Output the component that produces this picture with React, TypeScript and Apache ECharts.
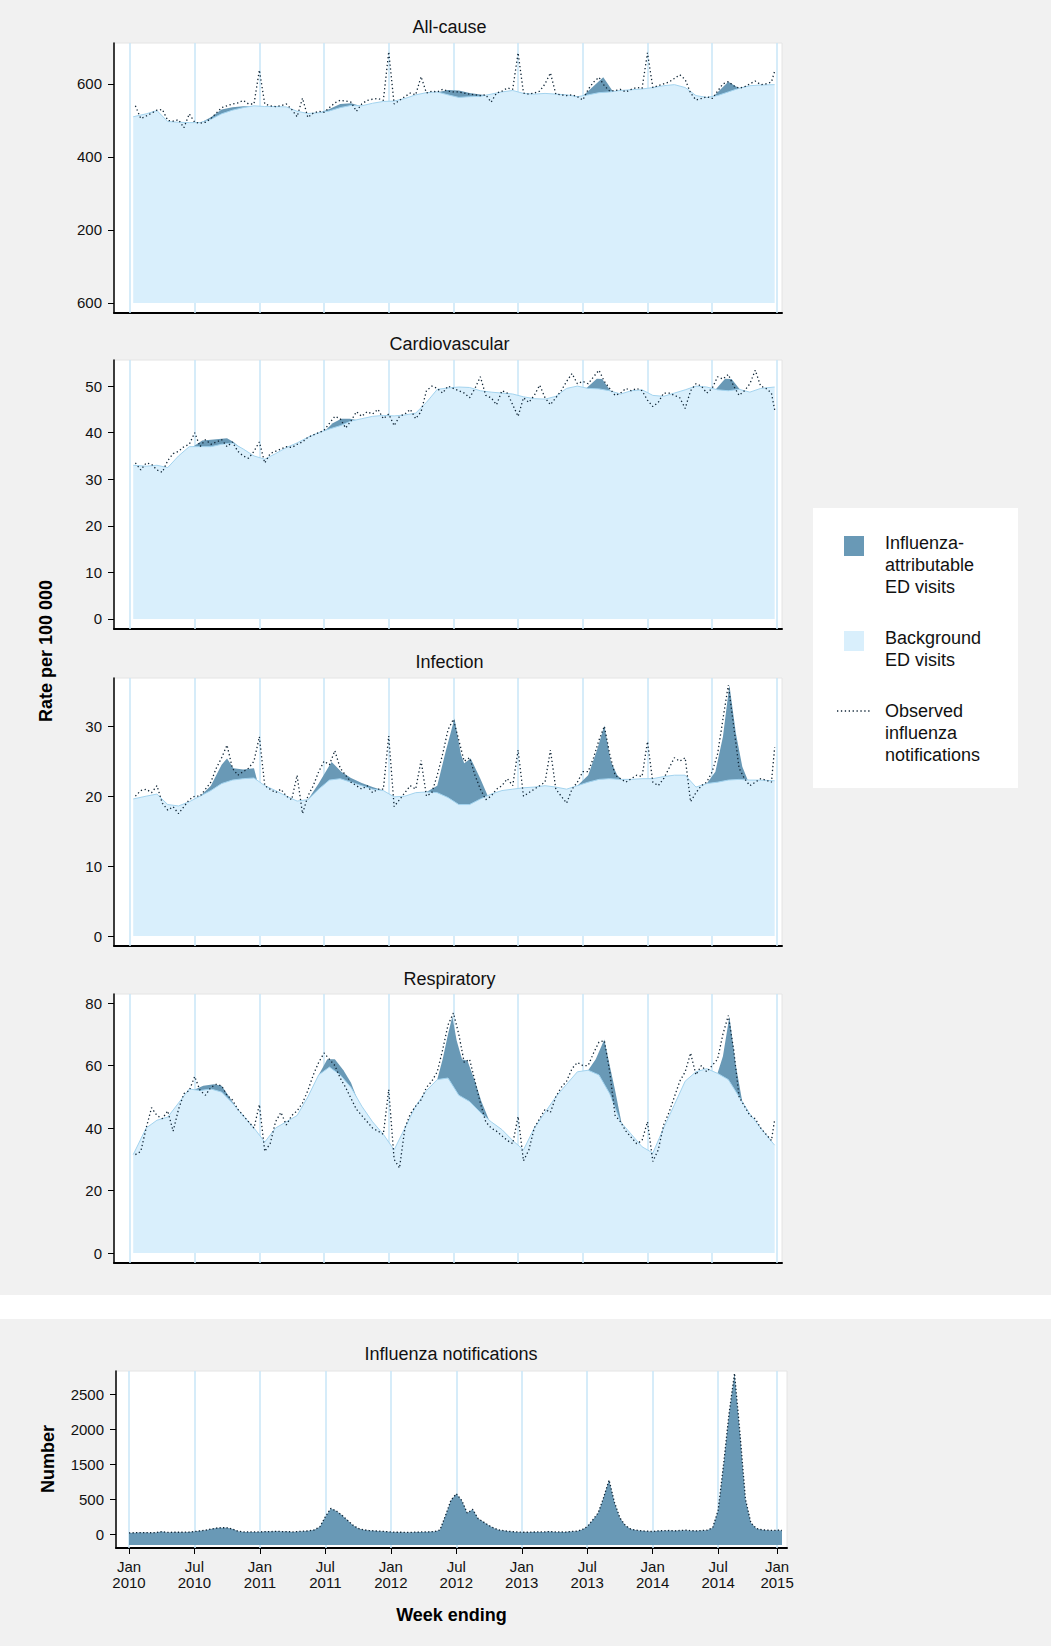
import React, { useEffect, useRef } from "react";
import * as echarts from "echarts";

// ---------- ticks / labels ----------
const gridMonths = [0, 6, 12, 18, 24, 30, 36, 42, 48, 54, 60];
const notifTickMonths = [0, 6, 12, 18, 24, 30, 36, 42, 48, 54, 59.4];
const xTickLabels = [
  "Jan\n2010", "Jul\n2010", "Jan\n2011", "Jul\n2011", "Jan\n2012", "Jul\n2012",
  "Jan\n2013", "Jul\n2013", "Jan\n2014", "Jul\n2014", "Jan\n2015",
];
const panelTitles = ["All-cause", "Cardiovascular", "Infection", "Respiratory"];
const notifTitle = "Influenza notifications";

const allCauseTicks = [0, 200, 400, 600];
const allCauseTickLabels = ["600", "200", "400", "600"];
const cardioTicks = [0, 10, 20, 30, 40, 50];
const infectionTicks = [0, 10, 20, 30];
const respTicks = [0, 20, 40, 60, 80];
const notifTicks = [0, 500, 1000, 1500, 2000];
const notifTickLabels = ["0", "500", "1500", "2000", "2500"];

// ---------- All-cause ----------
const allCauseBackground = [
  510, 518, 527, 497, 495, 494, 494, 503, 518, 528, 535, 540,
  538, 538, 537, 525, 519, 521, 526, 535, 541, 540, 547, 552,
  553, 560, 570, 576, 578, 570, 563, 565, 566, 572, 578, 582,
  574, 572, 574, 572, 570, 565, 570, 576, 578, 582, 584, 586,
  590, 595, 598, 590, 568, 563, 568, 578, 588, 595, 597, 598,
];
const allCauseWithFlu: number[][][] = [
  [[6.5, 493], [7.5, 509], [8.5, 530], [9.5, 536], [10.5, 539], [11.5, 539]],
  [[17.5, 520], [18.5, 531], [19.5, 545], [20.5, 547], [21.5, 539]],
  [[28.5, 577], [29.5, 583], [30.5, 582], [31.5, 575], [32.5, 571], [33.2, 569]],
  [[42.0, 567], [43.9, 618], [44.8, 579]],
  [[54.2, 568], [55.5, 606], [56.5, 588], [57.5, 595]],
];
const allCauseObserved = [
  540, 505, 512, 520, 528, 530, 500, 498, 502, 480, 518, 495,
  492, 495, 505, 520, 535, 540, 545, 548, 555, 545, 545, 638,
  545, 540, 538, 540, 545, 530, 510, 561, 508, 520, 525, 522,
  535, 548, 555, 553, 550, 525, 545, 555, 558, 560, 555, 688,
  545, 555, 565, 575, 570, 620, 575, 580, 578, 585, 580, 578,
  578, 575, 572, 570, 568, 570, 550, 575, 580, 589, 585, 685,
  575, 572, 575, 580, 600, 630, 572, 570, 568, 570, 565, 556,
  585, 605, 618, 595, 580, 582, 585, 578, 585, 590, 588, 685,
  590, 595, 600, 605, 615, 625, 612, 575, 556, 560, 565, 560,
  580, 600, 606, 595, 588, 592, 600, 608, 598, 600, 605, 635,
];

// ---------- Cardiovascular ----------
const cardioBackground = [
  33.0, 32.8, 33.0, 32.5, 35.0, 37.0, 37.0, 37.0, 37.5, 37.8, 36.5, 35.0,
  34.3, 35.5, 36.8, 37.8, 39.0, 40.0, 40.8, 41.5, 42.5, 43.0, 43.5, 43.7,
  43.6, 43.8, 44.2, 46.5, 49.3, 49.6, 49.8, 49.7, 49.0, 48.7, 48.5, 48.3,
  47.7, 47.3, 47.2, 47.8, 49.5, 50.0, 49.5, 49.4, 49.0, 48.3, 49.0, 49.2,
  48.0, 47.8, 48.5, 49.2, 50.0, 49.8, 49.2, 49.0, 49.3, 48.7, 49.5, 49.8,
];
const cardioWithFlu: number[][][] = [
  [[5.8, 36.9], [6.7, 38.3], [8.0, 38.6], [9.0, 38.8], [9.6, 38.0], [10.2, 36.8]],
  [[17.9, 40.0], [18.8, 42.0], [19.6, 43.0], [20.4, 43.0], [21.0, 42.7]],
  [[42.3, 49.5], [43.3, 51.6], [43.8, 51.5], [44.6, 48.9]],
  [[54.3, 49.2], [55.2, 51.6], [55.8, 51.5], [56.6, 49.2]],
];
const cardioObserved = [
  33.5, 32.0, 33.5, 33.2, 32.0, 31.5, 34.0, 35.5, 36.0, 37.0, 37.5, 40.0,
  37.0, 38.5, 37.5, 38.0, 38.5, 37.0, 38.0, 36.0, 35.0, 34.5, 36.0, 38.0,
  33.5, 35.5, 36.0, 36.5, 37.0, 36.8, 37.5, 38.0, 39.0, 39.5, 40.0, 40.5,
  42.0, 43.5, 43.0, 41.0, 42.5, 44.5, 43.5, 44.5, 44.0, 45.0, 43.0, 44.0,
  41.5, 43.5, 44.0, 45.0, 43.0, 44.5, 49.0, 50.0, 49.5, 48.5, 50.0, 49.5,
  49.0, 48.5, 47.5, 49.5, 52.0, 48.0, 47.5, 46.0, 49.0, 48.5, 46.0, 43.5,
  47.5, 46.5, 48.0, 50.2, 47.5, 46.0, 47.5, 49.0, 51.0, 52.7, 50.5, 51.0,
  50.5, 52.0, 53.4, 51.0, 49.5, 48.0, 48.5, 49.5, 49.0, 49.5, 49.0, 47.0,
  45.6, 46.5, 48.5, 48.5, 48.0, 47.5, 45.2, 49.0, 50.5, 50.0, 48.5, 49.5,
  52.0, 51.5, 52.5, 50.0, 48.0, 49.0, 50.5, 53.4, 50.0, 49.5, 48.5, 44.9,
];

// ---------- Infection ----------
const infectionBackground = [
  19.6, 20.0, 20.3, 18.8, 18.6, 19.2, 20.0, 20.8, 21.8, 22.3, 22.5, 22.6,
  21.5, 20.8, 20.0, 19.3, 19.5, 21.0, 22.3, 22.5, 22.0, 21.5, 21.0, 20.8,
  19.9, 20.0, 20.5, 20.6, 20.5, 19.8, 18.8, 18.8, 19.6, 20.3, 20.8, 21.0,
  21.2, 21.3, 21.5, 21.3, 21.0, 21.5, 22.0, 22.4, 22.5, 22.4, 22.4, 22.5,
  22.5, 22.8, 23.0, 23.0, 21.3, 21.8, 22.0, 22.3, 22.4, 22.3, 22.3, 22.2,
];
const infectionWithFlu: number[][][] = [
  [[6.5, 20.0], [7.5, 21.5], [8.5, 24.5], [9.0, 25.4], [9.6, 24.0], [10.5, 23.8], [11.5, 24.0], [11.8, 22.2]],
  [[16.5, 19.5], [17.5, 21.8], [18.7, 24.9], [19.6, 23.5], [20.5, 22.6], [21.5, 21.9], [22.5, 21.3], [23.5, 20.8]],
  [[27.5, 20.6], [28.5, 21.5], [29.3, 26.5], [30.1, 31.1], [30.7, 26.0], [31.0, 24.7], [31.6, 25.4], [32.5, 22.5], [33.2, 20.0]],
  [[41.5, 21.5], [42.5, 23.0], [43.3, 26.5], [44.0, 30.1], [44.6, 25.0], [45.2, 23.0], [45.6, 22.4]],
  [[53.5, 21.8], [54.3, 23.5], [55.0, 28.5], [55.6, 35.9], [56.2, 29.0], [56.8, 24.2], [57.3, 22.3]],
];
const infectionObserved = [
  20.0, 20.8, 21.0, 20.5, 21.5, 19.0, 18.0, 18.5, 17.5, 18.5, 19.5, 20.0,
  20.0, 21.0, 22.0, 24.0, 25.5, 27.3, 24.0, 23.0, 23.5, 24.0, 25.0, 28.5,
  21.5, 21.0, 20.5, 21.0, 20.0, 19.5, 23.0, 17.5, 20.0, 21.5, 23.5, 25.0,
  24.5, 26.5, 24.0, 23.0, 22.0, 21.5, 21.0, 21.5, 20.5, 21.0, 21.0, 28.6,
  18.5, 19.5, 20.5, 21.5, 21.0, 25.1, 20.0, 20.5, 23.0, 26.0, 29.5, 31.0,
  28.0, 25.0, 25.5, 23.0, 21.0, 19.5, 20.0, 21.0, 21.5, 22.5, 21.5, 26.6,
  20.0, 20.5, 21.0, 21.5, 22.0, 26.6, 21.0, 20.0, 19.0, 21.0, 22.0, 23.5,
  23.5, 25.5, 28.0, 30.0, 26.0, 23.0, 22.5, 22.0, 22.5, 23.0, 22.8, 27.8,
  22.0, 21.5, 22.5, 24.0, 25.5, 25.0, 25.5, 19.2, 20.5, 21.5, 22.0, 23.5,
  26.0, 31.0, 35.9, 30.0, 24.0, 22.5, 21.5, 22.0, 22.5, 22.3, 22.0, 27.0,
];

// ---------- Respiratory ----------
const respBackground = [
  31.5, 40.0, 42.5, 43.5, 48.0, 52.5, 52.0, 52.5, 51.5, 48.0, 44.0, 40.0,
  35.5, 40.0, 42.0, 44.0, 50.0, 57.0, 59.5, 57.0, 53.0, 47.0, 42.0, 38.0,
  33.0, 40.0, 47.0, 52.0, 55.5, 56.0, 50.5, 48.5, 45.0, 42.0, 39.5, 36.0,
  33.0, 40.0, 45.0, 50.0, 54.0, 58.0, 58.5, 57.0, 51.0, 42.0, 38.0, 34.0,
  32.0, 40.0, 47.5, 55.0, 58.0, 59.0, 57.5, 55.5, 50.0, 44.5, 40.0, 34.5,
];
const respWithFlu: number[][][] = [
  [[5.9, 52.2], [6.8, 53.5], [7.8, 54.0], [8.5, 53.5], [9.2, 50.0], [9.8, 46.8]],
  [[17.5, 57.0], [18.3, 62.0], [19.0, 62.0], [19.8, 58.5], [20.5, 54.5], [21.0, 50.0]],
  [[28.5, 55.5], [29.0, 62.0], [29.5, 70.0], [29.9, 75.7], [30.3, 68.0], [30.8, 62.0], [31.3, 61.5], [32.0, 55.0], [32.6, 48.5], [33.3, 42.6]],
  [[42.5, 58.5], [43.2, 62.0], [44.0, 68.3], [44.5, 60.0], [45.0, 52.0], [45.6, 41.5]],
  [[54.5, 57.5], [55.0, 63.0], [55.6, 75.7], [56.2, 60.0], [56.8, 48.3]],
];
const respObserved = [
  31.5, 32.5, 40.0, 46.5, 44.0, 43.0, 45.5, 39.0, 46.0, 51.0, 52.0, 56.5,
  52.0, 50.5, 53.0, 54.0, 53.5, 50.5, 49.0, 46.0, 44.0, 42.0, 40.0, 47.5,
  32.5, 35.0, 42.0, 45.0, 41.0, 44.0, 45.5, 48.0, 52.0, 57.0, 61.0, 64.0,
  62.0, 60.0, 56.0, 53.0, 49.5, 46.0, 44.0, 42.0, 40.0, 39.0, 38.0, 52.3,
  30.0, 27.2, 40.0, 44.5, 47.0, 49.0, 53.0, 55.0, 58.0, 65.0, 73.0, 76.8,
  70.0, 61.0, 62.0, 55.0, 48.0, 42.0, 40.0, 39.0, 37.5, 36.0, 35.0, 43.7,
  29.5, 33.0, 40.0, 43.0, 46.0, 45.0, 50.0, 53.0, 55.0, 59.0, 61.0, 60.0,
  60.0, 64.0, 67.5, 68.0, 58.0, 44.0, 42.0, 39.0, 37.0, 35.0, 36.0, 42.0,
  29.3, 33.0, 41.0, 45.0, 50.0, 55.0, 58.0, 64.0, 57.0, 60.0, 58.0, 60.0,
  62.0, 70.0, 76.0, 65.0, 50.0, 47.0, 44.0, 43.0, 40.0, 38.0, 36.0, 42.7,
];

// ---------- Influenza notifications (axis units) ----------
const notifications = [
  15, 18, 20, 20, 18, 22, 35, 22, 25, 25, 25, 28,
  35, 45, 55, 70, 85, 90, 88, 70, 40, 30, 30, 30,
  30, 35, 35, 38, 35, 35, 30, 35, 40, 45, 60, 105,
  248, 365, 330, 270, 200, 130, 80, 60, 50, 45, 40, 35,
  30, 25, 25, 22, 25, 28, 30, 32, 35, 57, 260, 480,
  575, 480, 300, 352, 220, 170, 120, 80, 55, 45, 35, 30,
  25, 25, 28, 30, 30, 35, 30, 30, 28, 35, 40, 60,
  105, 200, 300, 520, 771, 450, 230, 120, 70, 55, 45, 40,
  35, 45, 48, 50, 45, 50, 55, 48, 45, 50, 55, 90,
  340, 1000, 1723, 2295, 1438, 500, 160, 80, 60, 55, 50, 55,
  50,
];

// ---------- x positions (months since Jan 2010) ----------
const bgX = allCauseBackground.map((_, i) => (i === 0 ? 0.3 : i === 59 ? 59.8 : i + 0.5));
const obsX = allCauseObserved.map((_, i) => Math.min(59.8, 0.5 + i * 0.5));
const notifX = notifications.map((_, i) => Math.min(59.85, i * 0.5));

const FONT = "'Liberation Sans', Arial, Helvetica, sans-serif";
const LIGHT = "#d9effc";
const DARK = "#6999b6";
const GRIDC = "#c8e6f7";
const DOT = "#0f2536";

const pair = (xs: number[], ys: number[]) => xs.map((x, i) => [x, ys[i]]);

const panels = [
  { bg: allCauseBackground, flu: allCauseWithFlu, obs: allCauseObserved, ticks: allCauseTicks, labels: allCauseTickLabels, min: -27.4, max: 712, top: 43, height: 270, titleY: 27 },
  { bg: cardioBackground, flu: cardioWithFlu, obs: cardioObserved, ticks: cardioTicks, labels: null, min: -2.15, max: 55.6, top: 360, height: 269, titleY: 344 },
  { bg: infectionBackground, flu: infectionWithFlu, obs: infectionObserved, ticks: infectionTicks, labels: null, min: -1.43, max: 36.9, top: 678, height: 268, titleY: 662 },
  { bg: respBackground, flu: respWithFlu, obs: respObserved, ticks: respTicks, labels: null, min: -3.2, max: 82.9, top: 994, height: 269, titleY: 979 },
];

function buildOption() {
  const grid: any[] = [];
  const xAxis: any[] = [];
  const yAxis: any[] = [];
  const series: any[] = [];
  const graphic: any[] = [];

  const yAxisBase = (i: number, min: number, max: number, ticks: number[], labels: string[] | null) => ({
    type: "value",
    gridIndex: i,
    min,
    max,
    axisLine: { show: true, onZero: false, lineStyle: { color: "#000", width: 1.5 } },
    axisTick: { show: true, customValues: ticks, length: 6, lineStyle: { color: "#000", width: 1 } },
    axisLabel: {
      customValues: ticks,
      fontSize: 15,
      fontFamily: FONT,
      color: "#111",
      margin: 12,
      formatter: (v: number) => {
        const k = ticks.indexOf(v);
        return labels ? (k >= 0 ? labels[k] : "") : String(v);
      },
    },
    splitLine: { show: false },
  });

  const gridLineSeries = (i: number, months: number[]) => ({
    type: "line",
    xAxisIndex: i,
    yAxisIndex: i,
    data: [],
    z: 1,
    silent: true,
    markLine: {
      z: 1,
      silent: true,
      symbol: "none",
      label: { show: false },
      animation: false,
      lineStyle: { color: GRIDC, width: 1.5, type: "solid" },
      data: months.map((m) => ({ xAxis: m })),
    },
  });

  panels.forEach((p, i) => {
    grid.push({ left: 114, top: p.top, width: 668, height: p.height, show: true, backgroundColor: "#fff", borderColor: "#e4e4e4", borderWidth: 1 });
    xAxis.push({
      type: "value",
      gridIndex: i,
      min: -1.484,
      max: 60.48,
      axisLine: { show: true, onZero: false, lineStyle: { color: "#000", width: 2 } },
      axisTick: { show: false },
      axisLabel: { show: false },
      splitLine: { show: false },
    });
    yAxis.push(yAxisBase(i, p.min, p.max, p.ticks, p.labels));
    series.push(gridLineSeries(i, gridMonths));
    p.flu.forEach((season) => {
      series.push({
        type: "line",
        name: "Influenza-attributable ED visits",
        xAxisIndex: i,
        yAxisIndex: i,
        data: season,
        symbol: "none",
        silent: true,
        z: 2,
        lineStyle: { width: 0 },
        areaStyle: { color: DARK, opacity: 1 },
      });
    });
    series.push({
      type: "line",
      name: "Background ED visits",
      xAxisIndex: i,
      yAxisIndex: i,
      data: pair(bgX, p.bg),
      symbol: "none",
      silent: true,
      z: 3,
      lineStyle: { color: "#a3d3ee", width: 1 },
      areaStyle: { color: LIGHT, opacity: 1 },
    });
    series.push({
      type: "line",
      name: "Observed",
      xAxisIndex: i,
      yAxisIndex: i,
      data: pair(obsX, p.obs),
      symbol: "none",
      silent: true,
      z: 4,
      lineStyle: { color: DOT, width: 1.3, type: [1.3, 2.6] },
    });
    graphic.push({
      type: "text",
      x: 449.5,
      y: p.titleY,
      style: { text: panelTitles[i], fill: "#111", fontSize: 18, fontFamily: FONT, textAlign: "center", textVerticalAlign: "middle" },
    });
  });

  // notifications panel
  grid.push({ left: 116, top: 1371, width: 671, height: 177, show: true, backgroundColor: "#fff", borderColor: "#e4e4e4", borderWidth: 1 });
  xAxis.push({
    type: "value",
    gridIndex: 4,
    min: -1.19,
    max: 60.31,
    axisLine: { show: true, onZero: false, lineStyle: { color: "#000", width: 2 } },
    axisTick: { show: true, customValues: notifTickMonths, length: 6, lineStyle: { color: "#000", width: 1 } },
    axisLabel: {
      customValues: notifTickMonths,
      fontSize: 15,
      lineHeight: 16,
      fontFamily: FONT,
      color: "#111",
      margin: 10,
      formatter: (v: number) => {
        const k = notifTickMonths.indexOf(v);
        return k >= 0 ? xTickLabels[k] : "";
      },
    },
    splitLine: { show: false },
    name: "Week ending",
    nameLocation: "middle",
    nameGap: 58,
    nameTextStyle: { fontSize: 18, fontWeight: "bold", fontFamily: FONT, color: "#000" },
  });
  yAxis.push(yAxisBase(4, -200, 2329, notifTicks, notifTickLabels));
  series.push(gridLineSeries(4, notifTickMonths));
  series.push({
    type: "line",
    name: "Influenza notifications",
    xAxisIndex: 4,
    yAxisIndex: 4,
    data: pair(notifX, notifications),
    symbol: "none",
    silent: true,
    z: 3,
    lineStyle: { color: DOT, width: 1.3, type: [1.3, 2.2] },
    areaStyle: { color: DARK, opacity: 1, origin: -157 },
  });

  graphic.push(
    { type: "rect", shape: { x: 0, y: 1295, width: 1051, height: 24 }, style: { fill: "#fff" }, z: -5 },
    { type: "text", x: 451, y: 1354, style: { text: notifTitle, fill: "#111", fontSize: 18, fontFamily: FONT, textAlign: "center", textVerticalAlign: "middle" } },
    { type: "text", x: 46, y: 651, rotation: Math.PI / 2, style: { text: "Rate per 100 000", fill: "#000", fontSize: 18, fontWeight: "bold", fontFamily: FONT, textAlign: "center", textVerticalAlign: "middle" } },
    { type: "text", x: 48, y: 1459, rotation: Math.PI / 2, style: { text: "Number", fill: "#000", fontSize: 18, fontWeight: "bold", fontFamily: FONT, textAlign: "center", textVerticalAlign: "middle" } },
    // legend
    { type: "rect", shape: { x: 813, y: 508, width: 205, height: 280 }, style: { fill: "#fff" } },
    { type: "rect", shape: { x: 844, y: 536, width: 20, height: 20 }, style: { fill: DARK } },
    { type: "rect", shape: { x: 844, y: 631, width: 20, height: 20 }, style: { fill: LIGHT } },
    { type: "line", shape: { x1: 837, y1: 711, x2: 872, y2: 711 }, style: { stroke: DOT, lineWidth: 1.3, lineDash: [1.3, 2.6] } },
  );
  const legendLines: [string, number][] = [
    ["Influenza-", 543], ["attributable", 565], ["ED visits", 587],
    ["Background", 638], ["ED visits", 660],
    ["Observed", 711], ["influenza", 733], ["notifications", 755],
  ];
  legendLines.forEach(([t, y]) => {
    graphic.push({ type: "text", x: 885, y, style: { text: t, fill: "#111", fontSize: 18, fontFamily: FONT, textAlign: "left", textVerticalAlign: "middle" } });
  });

  return {
    animation: false,
    backgroundColor: "#f1f1f1",
    textStyle: { fontFamily: FONT },
    grid,
    xAxis,
    yAxis,
    series,
    graphic: { elements: graphic },
  };
}

export default function App() {
  const ref = useRef<HTMLDivElement | null>(null);
  useEffect(() => {
    document.body.style.margin = "0";
    if (!ref.current) return;
    const chart = echarts.init(ref.current, undefined, { renderer: "svg" });
    chart.setOption(buildOption() as any);
    return () => chart.dispose();
  }, []);
  return <div ref={ref} style={{ width: 1051, height: 1646 }} />;
}
